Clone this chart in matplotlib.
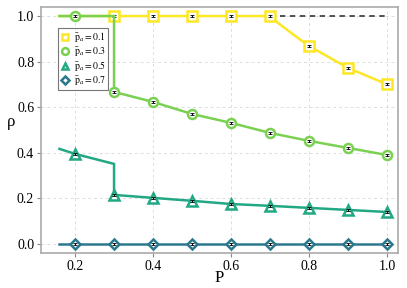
import numpy as np
import matplotlib.pyplot as plt

plt.rcParams['font.family'] = ['Liberation Serif', 'DejaVu Serif']
plt.rcParams['mathtext.fontset'] = 'stix'

# marker positions
P_pts = [0.2, 0.3, 0.4, 0.5, 0.6, 0.7, 0.8, 0.9, 1.0]
rho_01 = [np.nan, 1.0, 1.0, 1.0, 1.0, 1.0, 0.868, 0.772, 0.700]
rho_03 = [1.0, 0.667, 0.623, 0.570, 0.531, 0.487, 0.452, 0.421, 0.390]
rho_05 = [0.395, 0.215, 0.202, 0.189, 0.175, 0.167, 0.158, 0.149, 0.140]
rho_07 = [0.0, 0.0, 0.0, 0.0, 0.0, 0.0, 0.0, 0.0, 0.0]
err = [0.004, 0.004, 0.004, 0.004, 0.004, 0.004, 0.004, 0.004, 0.004]

# line curves (with the jumps at P=0.3)
P_line_01 = [0.16, 0.2, 0.3, 0.4, 0.5, 0.6, 0.7, 0.72, 0.76, 0.8, 0.9, 1.0]
rho_line_01 = [1.0, 1.0, 1.0, 1.0, 1.0, 1.0, 1.0, 0.97, 0.918, 0.868, 0.772, 0.700]
P_line_03 = [0.16, 0.2, 0.3, 0.3, 0.4, 0.5, 0.6, 0.7, 0.8, 0.9, 1.0]
rho_line_03 = [1.0, 1.0, 1.0, 0.667, 0.623, 0.570, 0.531, 0.487, 0.452, 0.421, 0.390]
P_line_05 = [0.16, 0.2, 0.3, 0.3, 0.4, 0.5, 0.6, 0.7, 0.8, 0.9, 1.0]
rho_line_05 = [0.417, 0.395, 0.351, 0.215, 0.202, 0.189, 0.175, 0.167, 0.158, 0.149, 0.140]
P_line_07 = [0.16, 1.0]
rho_line_07 = [0.0, 0.0]

P_dash = [0.7, 1.0]
rho_dash = [1.0, 1.0]

labels = [r'$\bar{\mathrm{p}}_a = 0.1$', r'$\bar{\mathrm{p}}_a = 0.3$',
          r'$\bar{\mathrm{p}}_a = 0.5$', r'$\bar{\mathrm{p}}_a = 0.7$']
colors = ['#fde725', '#7ad151', '#22a884', '#2a788e']
markers = ['s', 'o', '^', 'D']

fig = plt.figure(figsize=(4.07, 2.88), dpi=100)
ax = fig.add_axes([0.101, 0.1215, 0.877, 0.8545])

lines = [(P_line_01, rho_line_01, rho_01), (P_line_03, rho_line_03, rho_03),
         (P_line_05, rho_line_05, rho_05), (P_line_07, rho_line_07, rho_07)]

ax.plot(P_dash, rho_dash, ls=(0, (3, 2.5)), color='#444444', lw=1.3, zorder=1)
handles = []
for i, (xl, yl, yp) in enumerate(lines):
    ax.plot(xl, yl, color=colors[i], lw=1.8, zorder=2 + i, solid_joinstyle='miter')
    ms = 6.5 if markers[i] != 'D' else 5.5
    h, = ax.plot(P_pts, yp, ls='none', marker=markers[i], ms=ms, mfc='white',
                 mec=colors[i], mew=1.8, zorder=2 + i, label=labels[i])
    ax.errorbar(P_pts, yp, yerr=err, fmt='none', ecolor='black', elinewidth=0.8,
                capsize=1.5, capthick=0.6, zorder=2.5 + i)
    handles.append(h)

ax.set_xlim(0.113, 1.028)
ax.set_ylim(-0.04, 1.04)
ax.set_xticks([0.2, 0.4, 0.6, 0.8, 1.0])
ax.set_yticks([0.0, 0.2, 0.4, 0.6, 0.8, 1.0])
ax.grid(True, ls=(0, (3, 3)), color='#dddddd', lw=0.7)
ax.set_axisbelow(True)
for s in ax.spines.values():
    s.set_color('#aaaaaa')
    s.set_linewidth(1.2)
ax.tick_params(direction='out', length=3, width=0.8, color='#888888', labelsize=10, pad=2)
ax.set_xlabel('P', fontsize=12, labelpad=-2)
ax.set_ylabel('ρ', fontsize=12, rotation=0, labelpad=4)

leg = ax.legend(handles=handles, loc='upper left', bbox_to_anchor=(0.035, 0.935),
                fontsize=7, frameon=True, fancybox=False, handlelength=0.9,
                handletextpad=0.4, borderpad=0.25, labelspacing=0.1,
                markerscale=0.75)
leg.get_frame().set_edgecolor('#555555')
leg.get_frame().set_linewidth(0.8)

fig.savefig('out.png', dpi=100)
